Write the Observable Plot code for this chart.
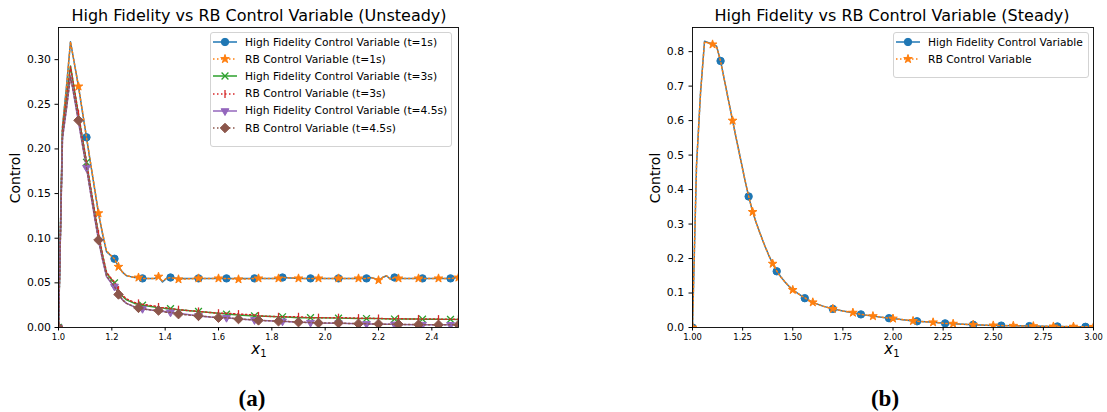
<!DOCTYPE html>
<html><head><meta charset="utf-8">
<script src="https://cdn.jsdelivr.net/npm/d3@7"></script>
<script src="https://cdn.jsdelivr.net/npm/@observablehq/plot@0.6"></script>
<style>
body{margin:0;background:#fff;font-family:"DejaVu Sans",sans-serif;color:#000;}
#wrap{position:relative;width:1107px;height:412px;overflow:hidden;background:#fff;}
.abs{position:absolute;}
.title{font-size:16px;line-height:16px;white-space:nowrap;transform:translateX(-50%);}
.ylab{font-size:14px;line-height:14px;white-space:nowrap;transform:translate(-50%,-50%) rotate(-90deg);}
.xlab{font-size:15px;line-height:15px;white-space:nowrap;transform:translateX(-50%);font-style:italic;}
.xlab sub{font-size:10px;font-style:normal;vertical-align:-3px;}
.cap{font-family:"Liberation Serif",serif;font-weight:bold;font-size:23px;line-height:23px;transform:translateX(-50%);}
.legend{border:1px solid #d3d3d3;border-radius:3px;background:rgba(255,255,255,0.85);box-sizing:border-box;}
.lrow{position:absolute;left:0;height:17.2px;line-height:17.2px;font-size:10.7px;white-space:nowrap;}
.lrow svg{position:absolute;left:2px;top:2.6px;}
.lrow span{position:absolute;left:34px;}
</style>
</head><body>
<div id="wrap"></div>
<script>
// ---------- Left chart (Unsteady) data ----------
const xLeft = [1.000,1.015,1.030,1.045,1.060,1.075,1.090,1.105,1.120,1.135,1.150,1.165,1.180,1.195,1.210,1.225,1.240,1.255,1.270,1.285,1.300,1.315,
  1.360,1.375,1.390,1.405,1.420,
  1.450,1.525,1.600,1.630,1.675,1.735,1.750,1.825,1.840,1.900,1.945,1.975,2.050,2.125,
  2.155,2.170,2.185,2.200,2.215,2.230,2.245,2.260,
  2.275,2.350,2.365,2.425,2.470,2.500];
const hf1 = [0,0.225,0.270,0.320,0.295,0.270,0.241,0.213,0.184,0.156,0.128,0.105,0.085,0.081,0.077,0.068,0.062,0.058,0.057,0.056,0.056,0.055,
  0.055,0.057,0.051,0.055,0.056,
  0.055,0.055,0.055,0.055,0.055,0.055,0.055,0.055,0.056,0.055,0.055,0.055,0.055,0.055,
  0.055,0.056,0.055,0.053,0.056,0.058,0.054,0.056,
  0.055,0.055,0.055,0.055,0.055,0.056];
const rb1 = [0,0.224,0.269,0.320,0.295,0.270,0.242,0.213,0.185,0.157,0.128,0.106,0.086,0.081,0.077,0.068,0.062,0.058,0.057,0.056,0.056,0.055,
  0.055,0.057,0.052,0.055,0.056,
  0.054,0.055,0.055,0.055,0.054,0.055,0.055,0.055,0.056,0.055,0.055,0.055,0.055,0.055,
  0.055,0.056,0.055,0.053,0.056,0.058,0.054,0.056,
  0.055,0.055,0.055,0.055,0.055,0.056];
const hf3 = [0,0.220,0.255,0.293,0.265,0.238,0.211,0.185,0.157,0.130,0.104,0.081,0.061,0.055,0.050,0.041,0.035,0.031,0.029,0.027,0.026,0.025,
  0.023,0.022,0.022,0.021,0.021,
  0.020,0.018,0.016,0.015,0.014,0.013,0.013,0.012,0.012,0.011,0.011,0.011,0.0105,0.010,
  0.010,0.010,0.010,0.010,0.0098,0.0097,0.0096,0.0095,
  0.0095,0.0094,0.0093,0.0092,0.0091,0.0090];
const rb3 = [0,0.221,0.256,0.292,0.266,0.239,0.212,0.186,0.158,0.131,0.105,0.082,0.062,0.056,0.051,0.042,0.036,0.032,0.030,0.028,0.027,0.026,
  0.024,0.023,0.022,0.022,0.021,
  0.020,0.018,0.016,0.016,0.015,0.014,0.013,0.012,0.012,0.012,0.011,0.011,0.011,0.0105,
  0.0105,0.0103,0.0102,0.0101,0.0100,0.0099,0.0098,0.0097,
  0.0097,0.0096,0.0095,0.0094,0.0093,0.0093];
const hf45 = [0,0.212,0.245,0.282,0.256,0.230,0.204,0.179,0.151,0.124,0.098,0.076,0.057,0.051,0.046,0.037,0.031,0.027,0.025,0.023,0.022,0.021,
  0.019,0.019,0.018,0.018,0.017,
  0.016,0.013,0.011,0.011,0.0095,0.0085,0.008,0.007,0.007,0.006,0.0055,0.005,0.0048,0.0042,
  0.004,0.004,0.004,0.0038,0.0037,0.0036,0.0036,0.0035,
  0.0035,0.0032,0.0032,0.0030,0.0030,0.0030];
const rb45 = [0,0.213,0.246,0.281,0.257,0.232,0.205,0.179,0.152,0.125,0.098,0.077,0.058,0.052,0.046,0.037,0.031,0.027,0.025,0.023,0.022,0.021,
  0.019,0.019,0.018,0.017,0.017,
  0.015,0.013,0.011,0.011,0.0095,0.0085,0.008,0.007,0.007,0.006,0.0055,0.005,0.005,0.0042,
  0.0041,0.004,0.004,0.004,0.0038,0.0037,0.0036,0.0036,
  0.0036,0.0032,0.0032,0.0030,0.0030,0.0030];
const hfMarkLeft = [1.000,1.105,1.210,1.315,1.420,1.525,1.630,1.735,1.840,1.945,2.050,2.155,2.260,2.365,2.470];
const rbMarkLeft = [1.000,1.075,1.150,1.225,1.300,1.375,1.450,1.525,1.600,1.675,1.750,1.825,1.900,1.975,2.050,2.125,2.200,2.275,2.350,2.425,2.500];
const xTicksLeft = [1.0,1.2,1.4,1.6,1.8,2.0,2.2,2.4];
const yTicksLeft = [0,0.05,0.10,0.15,0.20,0.25,0.30];

// ---------- Right chart (Steady) data ----------
const xRight = [1.00,1.02,1.04,1.06,1.08,1.10,1.12,1.14,1.16,1.18,1.20,1.22,1.24,1.26,1.28,1.30,1.32,1.34,1.36,1.38,1.40,1.42,1.44,1.46,1.48,1.50,1.52,1.54,1.56,1.58,1.60,
  1.65,1.70,1.75,1.80,1.84,1.90,1.98,2.00,2.10,2.12,2.20,2.26,2.30,2.40,2.50,2.54,2.60,2.68,2.70,2.80,2.82,2.90,2.96,3.00];
const hfS = [0,0.47,0.68,0.830,0.826,0.822,0.816,0.773,0.715,0.657,0.600,0.543,0.488,0.432,0.380,0.336,0.300,0.268,0.238,0.210,0.185,0.163,0.147,0.133,0.120,0.109,0.101,0.093,0.085,0.079,0.073,
  0.062,0.054,0.048,0.043,0.038,0.033,0.027,0.026,0.019,0.018,0.015,0.012,0.011,0.008,0.006,0.0055,0.005,0.004,0.004,0.003,0.003,0.0025,0.002,0.002];
const rbS = [0,0.47,0.68,0.829,0.825,0.821,0.815,0.772,0.715,0.657,0.600,0.543,0.487,0.432,0.381,0.335,0.300,0.268,0.238,0.210,0.185,0.164,0.147,0.133,0.120,0.109,0.101,0.093,0.086,0.079,0.073,
  0.062,0.054,0.048,0.043,0.038,0.033,0.027,0.026,0.019,0.018,0.015,0.012,0.011,0.008,0.006,0.0055,0.005,0.004,0.004,0.003,0.003,0.0025,0.002,0.002];
const hfMarkRight = [1.00,1.14,1.28,1.42,1.56,1.70,1.84,1.98,2.12,2.26,2.40,2.54,2.68,2.82,2.96];
const rbMarkRight = [1.0,1.1,1.2,1.3,1.4,1.5,1.6,1.7,1.8,1.9,2.0,2.1,2.2,2.3,2.4,2.5,2.6,2.7,2.8,2.9,3.0];
const xTicksRight = [1.00,1.25,1.50,1.75,2.00,2.25,2.50,2.75,3.00];
const yTicksRight = [0,0.1,0.2,0.3,0.4,0.5,0.6,0.7,0.8];

// ---------- symbols ----------
const triDown = {draw(ctx, size){ const y = -Math.sqrt(size/(Math.sqrt(3)*3)); ctx.moveTo(0,-2*y); ctx.lineTo(-Math.sqrt(3)*y, y); ctx.lineTo(Math.sqrt(3)*y, y); ctx.closePath(); }};
const vline = {draw(ctx, size){ const r = Math.sqrt(size/Math.PI); ctx.moveTo(0,-r); ctx.lineTo(0,r); }};
const DOT = "1.5,2.5";

const leftSeries = [
  {name:"High Fidelity Control Variable (t=1s)", values:hf1, color:"#1f77b4", dash:null, symbol:d3.symbolCircle, r:3.7, filled:true, marks:hfMarkLeft},
  {name:"RB Control Variable (t=1s)", values:rb1, color:"#ff7f0e", dash:DOT, symbol:d3.symbolStar, r:2.7, filled:true, marks:rbMarkLeft},
  {name:"High Fidelity Control Variable (t=3s)", values:hf3, color:"#2ca02c", dash:null, symbol:d3.symbolTimes, r:3.2, filled:false, marks:hfMarkLeft},
  {name:"RB Control Variable (t=3s)", values:rb3, color:"#d62728", dash:DOT, symbol:vline, r:4, filled:false, marks:rbMarkLeft},
  {name:"High Fidelity Control Variable (t=4.5s)", values:hf45, color:"#9467bd", dash:null, symbol:triDown, r:2.9, filled:true, marks:hfMarkLeft},
  {name:"RB Control Variable (t=4.5s)", values:rb45, color:"#8c564b", dash:DOT, symbol:d3.symbolDiamond2, r:4.3, filled:true, marks:rbMarkLeft}
];
const rightSeries = [
  {name:"High Fidelity Control Variable", values:hfS, color:"#1f77b4", dash:null, symbol:d3.symbolCircle, r:3.7, filled:true, marks:hfMarkRight},
  {name:"RB Control Variable", values:rbS, color:"#ff7f0e", dash:DOT, symbol:d3.symbolStar, r:2.7, filled:true, marks:rbMarkRight}
];

const key = v => Math.round(v*1000);
function seriesMarks(xs, series){
  const m = [];
  for (const s of series){
    const data = xs.map((x,i)=>({x, y:s.values[i]}));
    const set = new Set(s.marks.map(key));
    const md = data.filter(d => set.has(key(d.x)));
    m.push(Plot.line(data, {x:"x", y:"y", stroke:s.color, strokeWidth:1.5, strokeDasharray:s.dash || undefined, clip:true}));
    m.push(Plot.dot(md, {x:"x", y:"y", r:s.r, symbol:s.symbol, fill:s.filled ? s.color : "none", stroke:s.color, strokeWidth:s.filled ? 1 : 1.3, clip:true}));
  }
  return m;
}

function makeChart(opts){
  return Plot.plot({
    width: opts.width, height: 345,
    marginLeft: opts.ml, marginRight: opts.mr, marginTop: 27, marginBottom: 18,
    style: {fontFamily: "DejaVu Sans", color: "#000", background: "transparent", overflow: "visible"},
    x: {domain: opts.xd},
    y: {domain: opts.yd},
    marks: [
      ...seriesMarks(opts.xs, opts.series),
      Plot.frame({stroke: "#000", strokeWidth: 0.9}),
      Plot.axisX({ticks: opts.xt, tickFormat: d3.format(opts.xf), tickSize: 3.5, tickPadding: 3, fontSize: 8.4, label: null}),
      Plot.axisY({ticks: opts.yt, tickFormat: d3.format(opts.yf), tickSize: 3.5, tickPadding: opts.yp, fontSize: 10.8, label: null})
    ]
  });
}

const wrap = document.getElementById("wrap");
const left = makeChart({width:470, ml:58, mr:12, xd:[1,2.5], yd:[0,0.336], xs:xLeft, series:leftSeries, xt:xTicksLeft, yt:yTicksLeft, xf:".1f", yf:".2f", yp:4});
left.style.position = "absolute"; left.style.left = "0px"; left.style.top = "0px";
wrap.appendChild(left);
const right = makeChart({width:475, ml:62, mr:12, xd:[1,3], yd:[0,0.87], xs:xRight, series:rightSeries, xt:xTicksRight, yt:yTicksRight, xf:".2f", yf:".1f", yp:5});
right.style.position = "absolute"; right.style.left = "630px"; right.style.top = "0px";
wrap.appendChild(right);

function addDiv(cls, html, x, y){
  const d = document.createElement("div");
  d.className = "abs " + cls; d.innerHTML = html;
  d.style.left = x + "px"; d.style.top = y + "px";
  wrap.appendChild(d); return d;
}
addDiv("title", "High Fidelity vs RB Control Variable (Unsteady)", 259, 7.5);
addDiv("title", "High Fidelity vs RB Control Variable (Steady)", 892, 7.5);
addDiv("ylab", "Control", 15, 178);
addDiv("ylab", "Control", 655, 178);
addDiv("xlab", "x<sub>1</sub>", 259, 342);
addDiv("xlab", "x<sub>1</sub>", 892, 342);
addDiv("cap", "(a)", 252, 387);
addDiv("cap", "(b)", 885, 387);

function legend(series, x, y, w){
  const box = addDiv("legend", "", x, y);
  box.style.width = w + "px";
  box.style.height = (series.length * 17.2 + 12) + "px";
  series.forEach((s, i) => {
    const row = document.createElement("div");
    row.className = "lrow";
    row.style.top = (0.5 + i * 17.2) + "px";
    const svg = d3.create("svg").attr("width", 24).attr("height", 12);
    svg.append("line").attr("x1", 0).attr("x2", 24).attr("y1", 6).attr("y2", 6)
      .attr("stroke", s.color).attr("stroke-width", 1.5).attr("stroke-dasharray", s.dash);
    svg.append("path").attr("transform", "translate(12,6)")
      .attr("d", d3.symbol(s.symbol, Math.PI * s.r * s.r)())
      .attr("fill", s.filled ? s.color : "none").attr("stroke", s.color).attr("stroke-width", s.filled ? 1 : 1.3);
    row.appendChild(svg.node());
    const sp = document.createElement("span"); sp.textContent = s.name;
    row.appendChild(sp);
    box.appendChild(row);
  });
}
legend(leftSeries, 210, 32, 242);
legend(rightSeries, 893, 32, 196);
</script>
</body></html>
